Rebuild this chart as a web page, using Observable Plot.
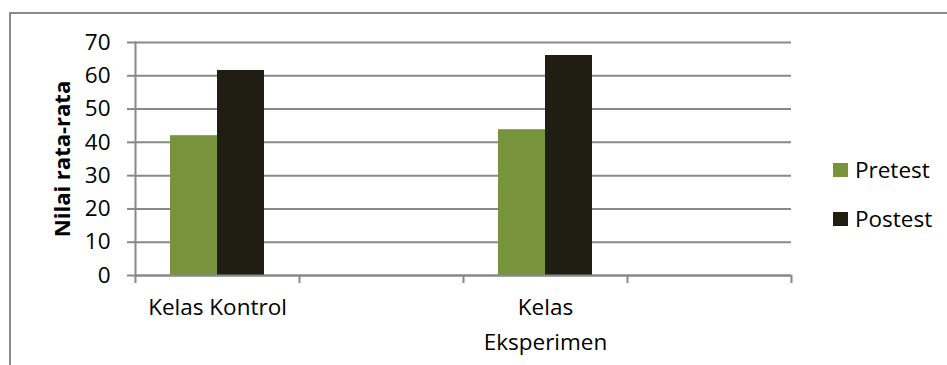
<!DOCTYPE html>
<html>
<head>
<meta charset="utf-8">
<script src="https://cdn.jsdelivr.net/npm/d3@7"></script>
<script src="https://cdn.jsdelivr.net/npm/@observablehq/plot@0.6"></script>
<style>
  html, body { margin: 0; padding: 0; background: #fff; }
  #wrap { position: relative; width: 947px; height: 365px; overflow: hidden; font-family: "Open Sans", sans-serif; }
  #border { position: absolute; left: 9px; top: 12px; width: 1000px; height: 400px;
            border-top: 2px solid #8a8a8a; border-left: 2px solid #8a8a8a; }
  #chart { position: absolute; left: 0; top: 0; }
  #legend { position: absolute; left: 833px; top: 145px; font-size: 22.5px; color: #000; }
  .row { display: flex; align-items: center; height: 49px; }
  .sw { width: 15px; height: 14px; margin-right: 7px; }
</style>
</head>
<body>
<div id="wrap">
  <div id="border"></div>
  <div id="chart"></div>
  <div id="legend"></div>
</div>
<script>
// Category slots of the Excel axis (two of them are empty)
const slots = ["Kelas Kontrol", "slot-2", "Kelas Eksperimen", "slot-4"];
const slotLabels = ["Kelas Kontrol", "", "Kelas\nEksperimen", ""];
const categories = ["Kelas Kontrol", "Kelas Eksperimen"];
const series = ["Pretest", "Postest"];
const pretest = [42.0, 43.8];
const postest = [61.6, 66.1];
const colors = ["#77933c", "#201e13"];
const yTicks = [0, 10, 20, 30, 40, 50, 60, 70];
const yTitle = "Nilai rata-rata";

const rows = categories.flatMap((c, i) => [
  {category: c, series: series[0], value: pretest[i]},
  {category: c, series: series[1], value: postest[i]}
]);

const W = 947, H = 365, mL = 135, mR = 156, mT = 42, mB = 90;
const plotH = H - mT - mB;
const bw = (W - mL - mR) / slots.length;             // width of one category slot
const sub = d3.scaleBand().domain(series).range([0, bw]).paddingInner(0).paddingOuter(0.745);
const lineColor = "#888888";

const barMarks = series.map((s) => Plot.barY(rows.filter((d) => d.series === s), {
  x: "category", y: "value", fill: "series",
  insetLeft: sub(s), insetRight: bw - sub(s) - sub.bandwidth()
}));

const chart = Plot.plot({
  width: W, height: H,
  marginLeft: mL, marginRight: mR, marginTop: mT, marginBottom: mB,
  style: {fontFamily: "'Open Sans', sans-serif", fontSize: "22.5px", color: "#000", background: "transparent", overflow: "visible"},
  x: {domain: slots, padding: 0, label: null},
  y: {domain: [0, 70], label: null},
  color: {domain: series, range: colors},
  marks: [
    Plot.gridY(yTicks, {stroke: lineColor, strokeOpacity: 1, strokeWidth: 2}),
    ...barMarks,
    Plot.ruleY([0], {stroke: lineColor, strokeWidth: 2}),
    Plot.frame({anchor: "left", stroke: lineColor, strokeWidth: 2}),
    // category boundary ticks (Excel style, between categories)
    Plot.ruleX(slots, {x: (d) => d, dx: -bw / 2, insetTop: plotH, insetBottom: -8, stroke: lineColor, strokeWidth: 2}),
    Plot.ruleX(slots.slice(-1), {x: (d) => d, dx: bw / 2, insetTop: plotH, insetBottom: -8, stroke: lineColor, strokeWidth: 2}),
    Plot.axisY(yTicks, {tickSize: 8, tickPadding: 17, stroke: lineColor, strokeWidth: 2, label: null, fill: "#000"}),
    Plot.axisX({tickSize: 0, tickPadding: 15, label: null, lineHeight: 1.55,
                tickFormat: (d) => slotLabels[slots.indexOf(d)], fill: "#000"}),
    Plot.text([yTitle], {frameAnchor: "left", textAnchor: "middle", rotate: -90, dx: -73,
                         fontWeight: "bold", fontSize: 22, fill: "#000"})
  ]
});
document.getElementById("chart").appendChild(chart);

const legend = document.getElementById("legend");
series.forEach((s, i) => {
  const row = document.createElement("div");
  row.className = "row";
  const sw = document.createElement("span");
  sw.className = "sw";
  sw.style.background = colors[i];
  const label = document.createElement("span");
  label.textContent = s;
  row.appendChild(sw);
  row.appendChild(label);
  legend.appendChild(row);
});
</script>
</body>
</html>
